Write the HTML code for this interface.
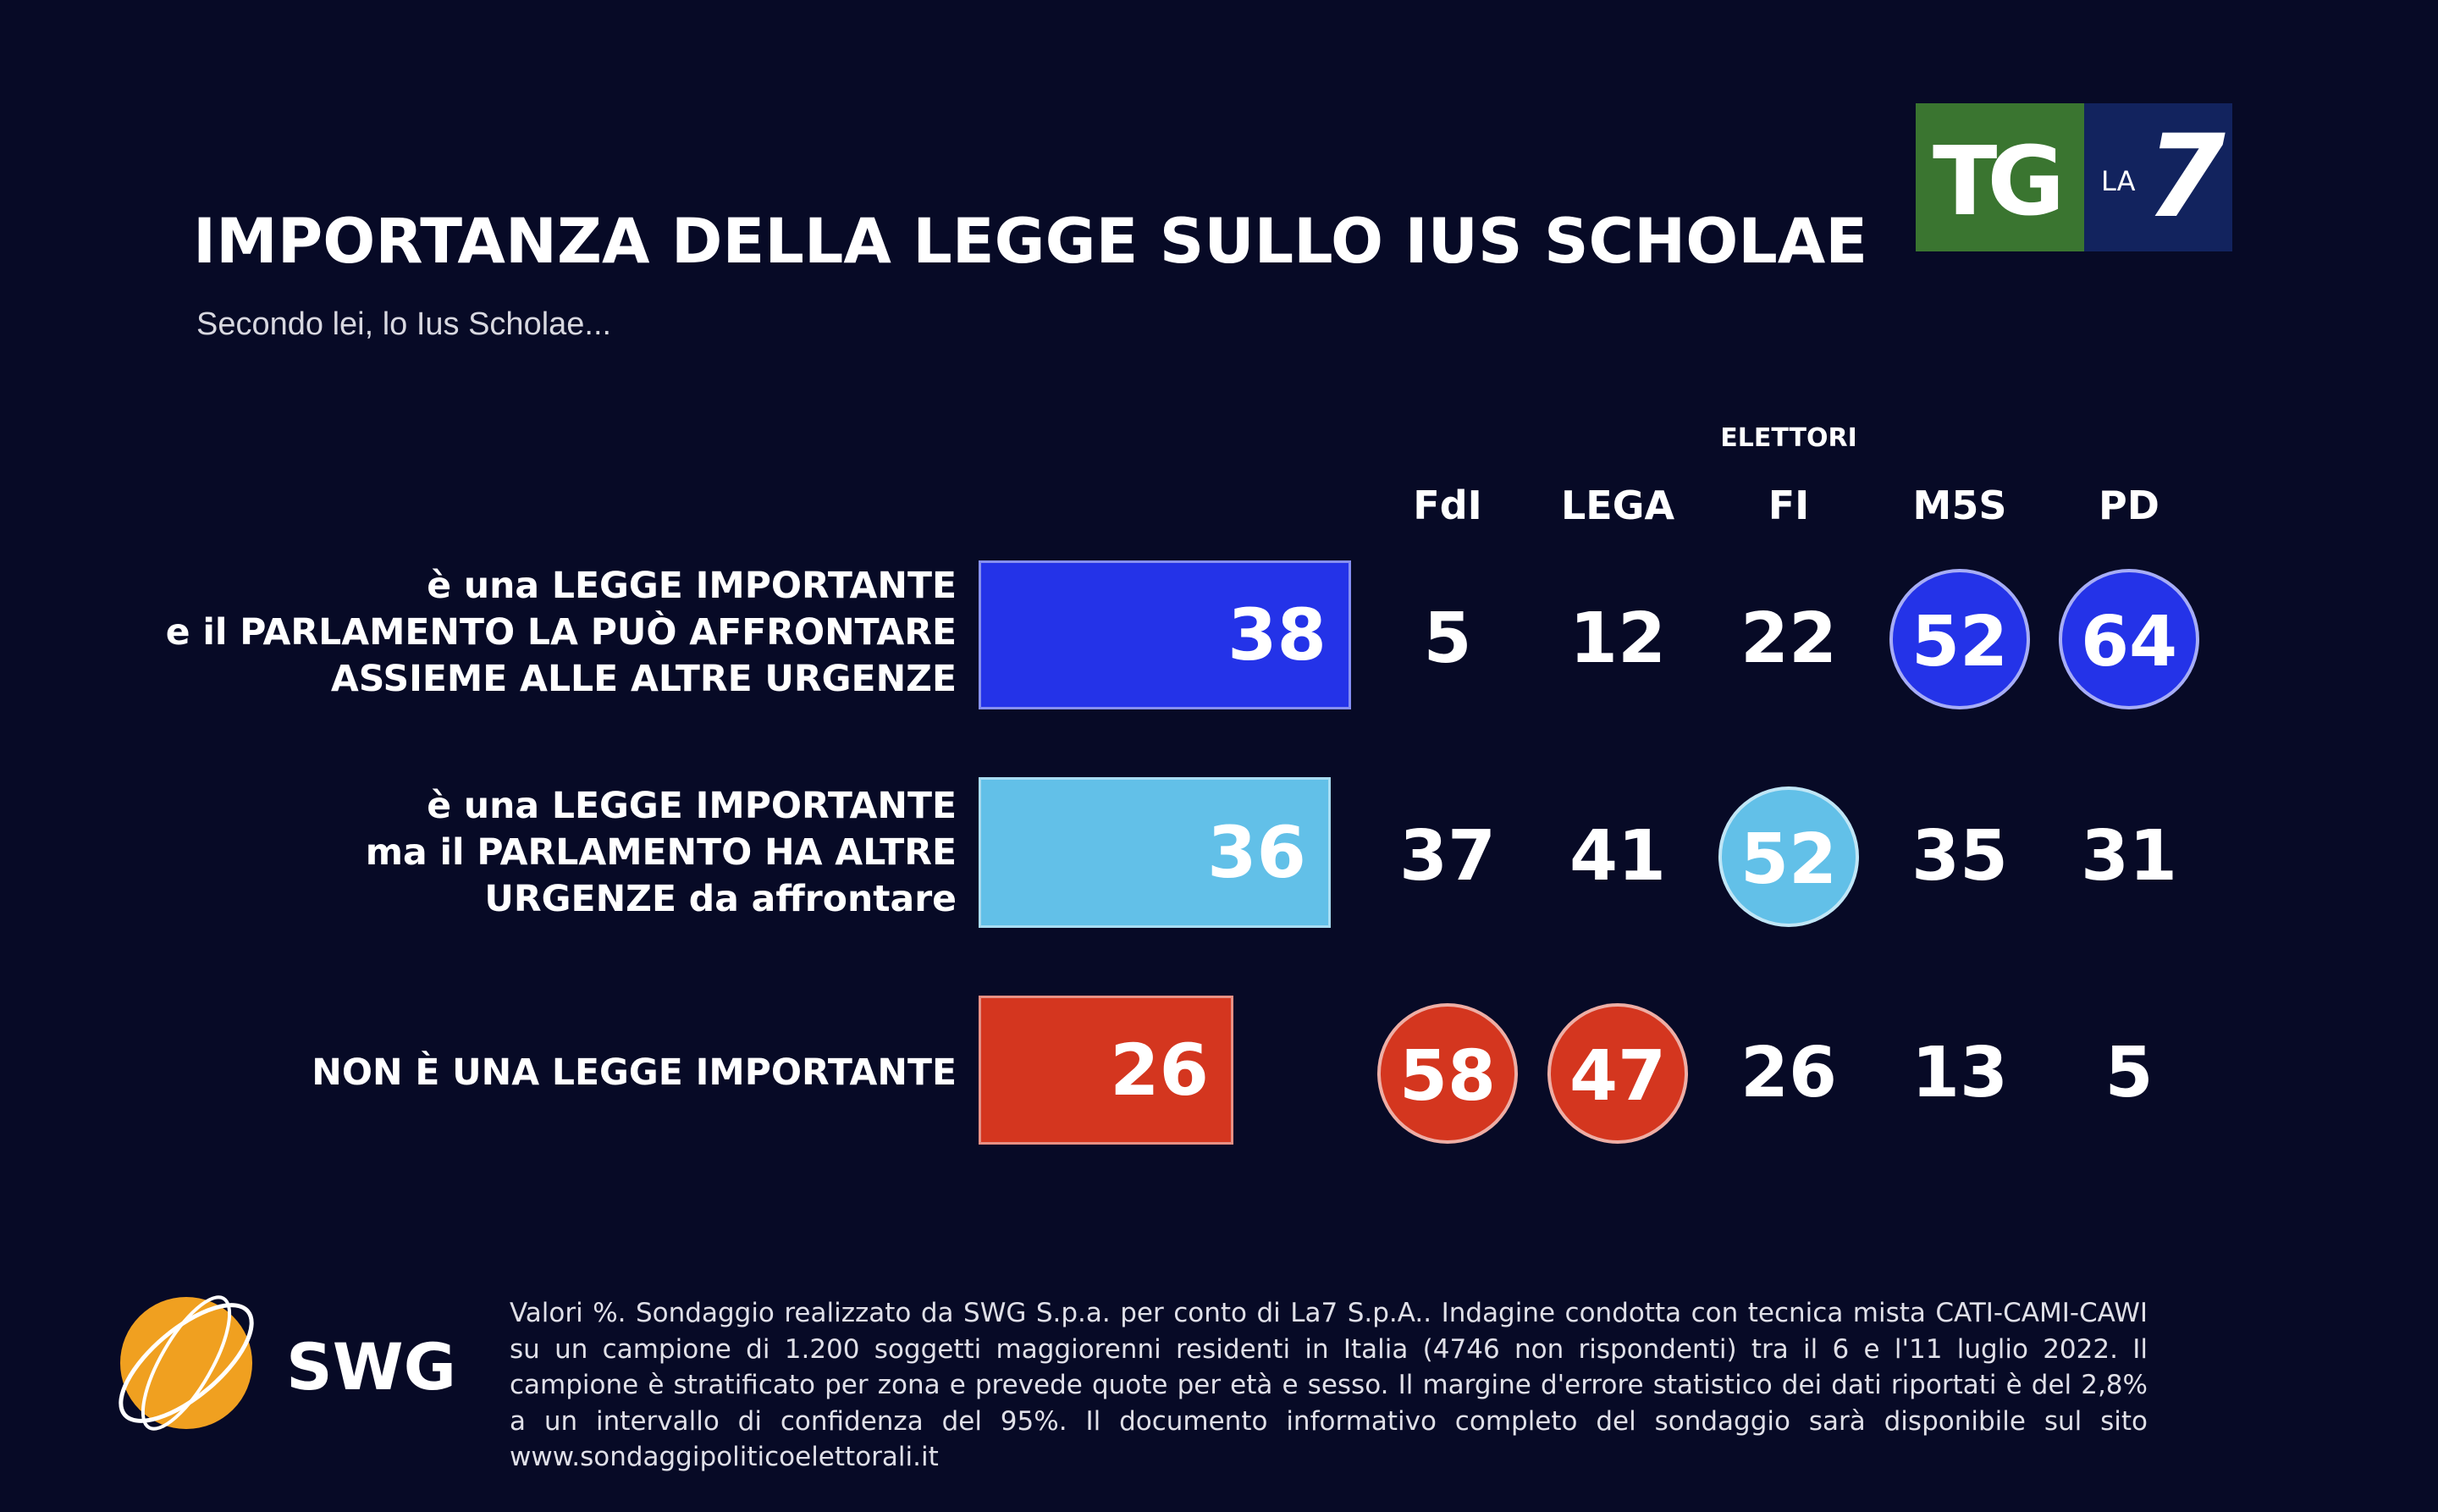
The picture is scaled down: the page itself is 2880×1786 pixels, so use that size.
<!DOCTYPE html>
<html><head><meta charset="utf-8"><style>
html,body{margin:0;padding:0}
body{width:2880px;height:1786px;background:#070a26;position:relative;overflow:hidden;font-family:"DejaVu Sans","Liberation Sans",sans-serif;color:#fff}
.a{position:absolute}
.title{left:228px;top:243px;font-size:73px;font-weight:bold;letter-spacing:0px;white-space:nowrap}
.sub{left:232px;top:362px;font-size:38px;color:#d8d8e0;font-family:"Liberation Sans",sans-serif}
.lab{right:1750px;text-align:right;font-size:42.5px;font-weight:bold;line-height:55px;white-space:nowrap}
.bar{left:1156px;border:3px solid rgba(255,255,255,0.45);box-sizing:border-box}
.bv{position:absolute;right:26px;top:50%;transform:translateY(-50%);font-size:84px;font-weight:bold}
.hd{font-size:46px;font-weight:bold;transform:translateX(-50%);top:570px;white-space:nowrap}
.n{font-size:82px;font-weight:bold;transform:translate(-50%,-50%);width:166px;height:166px;line-height:166px;text-align:center;border-radius:50%;box-sizing:border-box}
.c{border:4px solid rgba(255,255,255,0.6)}
.foot{left:602px;top:1530px;width:1935px;font-size:31px;line-height:42.5px;text-align:justify;color:#e0e0e8;font-family:"DejaVu Sans",sans-serif}
</style></head><body>
<div class="a title">IMPORTANZA DELLA LEGGE SULLO IUS SCHOLAE</div>
<div class="a sub">Secondo lei, lo Ius Scholae...</div>
<div class="a" style="left:2263px;top:122px;width:199px;height:175px;background:#3a7530"></div>
<div class="a" style="left:2462px;top:122px;width:175px;height:175px;background:#12235e"></div>
<div class="a" style="left:2283px;top:150px;font-size:112px;font-weight:bold;letter-spacing:-12px">TG</div>
<div class="a" style="left:2482px;top:195px;font-size:32px">LA</div>
<div class="a" style="left:2535px;top:130px;font-size:135px;font-weight:bold;font-style:italic">7</div>

<div class="a lab" style="top:665px">è una LEGGE IMPORTANTE<br>e il PARLAMENTO LA PUÒ AFFRONTARE<br>ASSIEME ALLE ALTRE URGENZE</div>
<div class="a lab" style="top:925px">è una LEGGE IMPORTANTE<br>ma il PARLAMENTO HA ALTRE<br>URGENZE da affrontare</div>
<div class="a lab" style="top:1240px">NON È UNA LEGGE IMPORTANTE</div>

<div class="a bar" style="top:662px;width:440px;height:176px;background:#2433e8"><span class="bv">38</span></div>
<div class="a bar" style="top:918px;width:416px;height:178px;background:#62c0e8"><span class="bv">36</span></div>
<div class="a bar" style="top:1176px;width:301px;height:176px;background:#d4361f"><span class="bv">26</span></div>

<div class="a hd" style="left:2113px;top:500px;font-size:30px">ELETTORI</div>
<div class="a hd" style="left:1710px">FdI</div>
<div class="a hd" style="left:1911px">LEGA</div>
<div class="a hd" style="left:2113px">FI</div>
<div class="a hd" style="left:2315px">M5S</div>
<div class="a hd" style="left:2515px">PD</div>

<div class="a n" style="left:1710px;top:755px">5</div>
<div class="a n" style="left:1911px;top:755px">12</div>
<div class="a n" style="left:2113px;top:755px">22</div>
<div class="a n c" style="left:2315px;top:755px;background:#2433e8">52</div>
<div class="a n c" style="left:2515px;top:755px;background:#2433e8">64</div>

<div class="a n" style="left:1710px;top:1012px">37</div>
<div class="a n" style="left:1911px;top:1012px">41</div>
<div class="a n c" style="left:2113px;top:1012px;background:#62c0e8">52</div>
<div class="a n" style="left:2315px;top:1012px">35</div>
<div class="a n" style="left:2515px;top:1012px">31</div>

<div class="a n c" style="left:1710px;top:1268px;background:#d4361f">58</div>
<div class="a n c" style="left:1911px;top:1268px;background:#d4361f">47</div>
<div class="a n" style="left:2113px;top:1268px">26</div>
<div class="a n" style="left:2315px;top:1268px">13</div>
<div class="a n" style="left:2515px;top:1268px">5</div>

<svg class="a" style="left:120px;top:1510px" width="200" height="200">
<circle cx="100" cy="100" r="78" fill="#f0a020"/>
<ellipse cx="100" cy="100" rx="95" ry="40" fill="none" stroke="#fff" stroke-width="5" transform="rotate(-40 100 100)"/>
<ellipse cx="100" cy="100" rx="88" ry="30" fill="none" stroke="#fff" stroke-width="4" transform="rotate(-60 100 100)"/>
</svg>
<div class="a" style="left:338px;top:1570px;font-size:76px;font-weight:bold">SWG</div>
<div class="a foot">Valori %. Sondaggio realizzato da SWG S.p.a. per conto di La7 S.p.A.. Indagine condotta con tecnica mista CATI-CAMI-CAWI su un campione di 1.200 soggetti maggiorenni residenti in Italia (4746 non rispondenti) tra il 6 e l'11 luglio 2022. Il campione è stratificato per zona e prevede quote per età e sesso. Il margine d'errore statistico dei dati riportati è del 2,8% a un intervallo di confidenza del 95%. Il documento informativo completo del sondaggio sarà disponibile sul sito www.sondaggipoliticoelettorali.it</div>
</body></html>
